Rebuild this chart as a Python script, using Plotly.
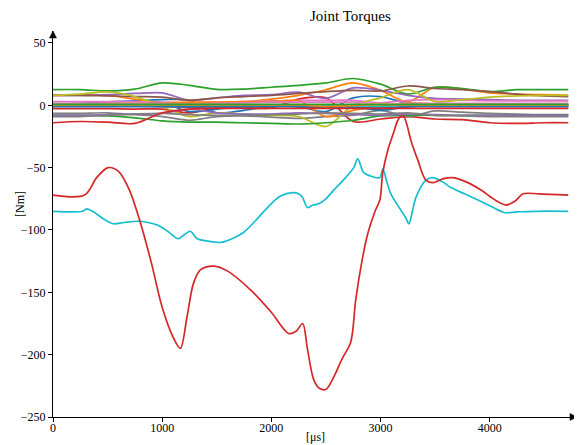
import plotly.graph_objects as go

# ---- data ----
grid_x = [0, 250, 500, 750, 1000, 1250, 1500, 1750, 2000, 2250, 2500, 2750, 3000, 3250, 3500, 3750, 4000, 4250, 4500, 4720]

blue_1   = [0.5, 1.5, 2.7, 3.5, 4.5, 4, -6, -4, -1, -1, -5, 6, 7, 1.5, 0.5, 0, 0, 0, 0, 0]
orange_1 = [8, 8.5, 8, 5, 2, 1, 2, 2.7, 5, 8, 12.5, 18, 12, 3, 14.5, 13, 10, 9, 8.5, 8]
green_1  = [12.6, 12.6, 11.5, 13, 18, 16, 12.8, 13, 14.5, 16, 18, 21.5, 17, 9, 14.5, 13.5, 11, 12.5, 12.5, 12.5]
red_3    = [-2.7, -2.7, -2.7, -3, -3, -6, -2, -2, -2, 5, 6, -13, -11, -9, -11, -11.5, -14, -14.5, -14, -14]
purple_1 = [8, 8, 8.5, 9.5, 10, 4, 6, 8, 8.5, 10.5, 5.5, 14, 12, 8, 5.5, 5, 4.5, 4, 4, 4]
brown_1  = [8, 8, 7.5, 7, 6.5, 4, 6, 7, 8, 9.5, 11, 12, 11.5, 15.5, 13.5, 12.5, 11, 9, 7.5, 7]
pink_1   = [3, 3, 3, 3, 2.5, 2, 2.5, 3, 3.5, 4, 4, 4, 2, 4, 4.5, 4, 3.5, 3.5, 3.5, 3.5]
gray_1   = [-6.4, -6.4, -6, -7.5, -9, -12, -9, -8.5, -9.5, -10.5, -9, -8, -4, -9, -4.5, -5.5, -6.5, -7, -7.5, -7.5]
olive_1  = [8, 9, 10.7, 7, -1, -9, -6, -7, -8, -9, -17, 0, 6, 12.5, 3, 4.5, 6.5, 7.5, 8, 8]
blue_2   = [-0.5, -0.5, -0.5, 0, 2, -5, -3, -1, -0.5, -1, -2, -1, -4, -1, -0.5, -0.5, -0.5, -0.5, -0.5, -0.5]
orange_2 = [1, 1, 1.5, 1.5, 2, 2.5, 2.5, 3, 3, 3.5, -9, -4, -1, 2, 1, 1, 1, 1, 1, 1]
green_2  = [-8, -8, -8.5, -10, -12.5, -13.5, -13.5, -14, -14.5, -15, -14, -12, -8.5, -8, -8, -8, -8, -8, -8, -8]
purple_2 = [-8, -8, -7.5, -7, -6.5, -3, -6, -7, -7, -6, -6.5, -7.5, -8, -7, -7.5, -8, -8, -8, -8, -8]
brown_2  = [-0.5, -0.5, -0.5, -0.5, -1, -1.5, -1, -0.5, -0.5, -0.5, -1, -1.5, -2, -1, -0.5, -0.5, -0.5, -0.5, -0.5, -0.5]
pink_2   = [1.5, 1.5, 1.5, 1.5, 1.5, 1, 1.5, 2, 2.5, 2.5, 2.5, 2.5, 1, 1.5, 1.5, 1.5, 1.5, 1.5, 1.5, 1.5]
gray_2   = [-9, -9, -8, -7, -6.5, -7.5, -8, -8, -7.5, -7, -6, -6.5, -7, -6, -8, -8.5, -9, -9, -9, -9]
olive_2  = [0.5, 0.5, 0.5, 0.5, 0.5, 0.5, 0.5, 0.5, 0.5, 0.5, 0, 0.5, 1, 0.5, 0.5, 0.5, 0.5, 0.5, 0.5, 0.5]
cyan_1   = [0, 0, 0, 0, 0, 0.3, 0, 0, 0, 0, 0, -0.5, -1, 0, 0, 0, 0, 0, 0, 0]
blue_3   = [-1, -1, -1, -1, -1, -1, -1, -1, -1, -1, -1.5, -2, -3, -1, -1, -1, -1, -1, -1, -1]
orange_3 = [0.3, 0.3, 0.3, 0.3, 0.3, 0.3, 0.3, 0.3, 0.3, 0.3, -1, 0, 0.5, 0.3, 0.3, 0.3, 0.3, 0.3, 0.3, 0.3]
green_3  = [0.8, 0.8, 0.8, 0.8, 0.8, 0.8, 0.8, 0.8, 0.8, 0.8, 0.8, 0.8, 0.5, 0.8, 0.8, 0.8, 0.8, 0.8, 0.8, 0.8]
red_2    = [-14, -13, -13.5, -14.5, -6, -3, -2.5, -2.5, -2.5, -2.5, -2.5, -2.5, -2.5, -2.5, -2.5, -2.5, -2.5, -2.5, -2.5, -2.5]

red_big_x = [0, 290, 400, 505, 600, 700, 800, 900, 1000, 1100, 1166, 1227, 1286, 1350, 1470, 1600,
             1809, 2000, 2158, 2230, 2287, 2330, 2388, 2440, 2498, 2560, 2650, 2727, 2773, 2830, 2883,
             2950, 2994, 3021, 3067, 3120, 3159, 3205, 3240, 3278, 3342, 3416, 3480, 3570, 3664, 3800,
             3921, 4050, 4151, 4230, 4307, 4450, 4720]
red_big_y = [-72, -72, -58, -50, -53, -68, -94, -126, -162, -186, -195, -170, -143, -132, -129, -133,
             -148, -166, -183, -181, -175, -195, -220, -227, -228, -220, -203, -190, -156, -125, -103,
             -85, -76, -54, -36, -22, -12, -8, -15, -28, -44, -60, -62, -59, -58, -62,
             -68, -76, -80, -77, -71, -71, -72]

cyan_big_x = [0, 270, 312, 380, 460, 551, 650, 781, 870, 955, 1050, 1148, 1200, 1258, 1290, 1322, 1420,
              1533, 1640, 1745, 1850, 1965, 2080, 2195, 2250, 2286, 2332, 2380, 2433, 2500, 2571, 2660,
              2755, 2791, 2847, 2920, 2994, 3021, 3060, 3095, 3186, 3230, 3260, 3290, 3324, 3416, 3480,
              3560, 3646, 3770, 3893, 4010, 4132, 4250, 4408, 4720]
cyan_big_y = [-85, -85, -83, -86, -91, -95, -94, -93, -94, -96, -101, -107, -104, -101, -104, -107, -109,
              -110, -107, -102, -93, -82, -73, -70, -71, -74, -82, -80, -79, -75, -68, -60,
              -50, -43, -54, -57, -58, -51, -62, -71, -84, -90, -95, -86, -74, -60, -58,
              -61, -66, -71, -76, -81, -86, -85.5, -85, -85]

x_ticks = [0, 1000, 2000, 3000, 4000]
y_ticks = [-250, -200, -150, -100, -50, 0, 50]

tab10 = ["#1f77b4", "#ff7f0e", "#2ca02c", "#d62728", "#9467bd",
         "#8c564b", "#e377c2", "#7f7f7f", "#bcbd22", "#17becf"]

series = [
    (grid_x, blue_1), (grid_x, orange_1), (grid_x, green_1), (grid_x, red_3),
    (grid_x, purple_1), (grid_x, brown_1), (grid_x, pink_1), (grid_x, gray_1),
    (grid_x, olive_1), (cyan_big_x, cyan_big_y), (grid_x, blue_2), (grid_x, orange_2),
    (grid_x, green_2), (red_big_x, red_big_y), (grid_x, purple_2), (grid_x, brown_2),
    (grid_x, pink_2), (grid_x, gray_2), (grid_x, olive_2), (grid_x, cyan_1),
    (grid_x, blue_3), (grid_x, orange_3), (grid_x, green_3), (grid_x, red_2),
]

fig = go.Figure()
for i, (xs, ys) in enumerate(series):
    fig.add_trace(go.Scatter(
        x=xs, y=ys, mode="lines",
        line=dict(color=tab10[i % 10], width=1.7, shape="spline", smoothing=0.9),
        showlegend=False, hoverinfo="skip"))

serif = "Liberation Serif, DejaVu Serif, serif"

# the page body adds an 8px offset, so the figure is sized to fit inside the window
fig.update_layout(
    width=574, height=437,
    margin=dict(l=45, r=5, t=23, b=28, autoexpand=False),
    paper_bgcolor="white", plot_bgcolor="white",
    font=dict(family=serif, size=12, color="black"),
    showlegend=False,
    xaxis=dict(range=[0, 4800], tickvals=x_ticks, ticks="outside", ticklen=4,
               tickwidth=1, tickcolor="black", showline=True, linecolor="black",
               linewidth=1, showgrid=False, zeroline=False, automargin=False,
               ticklabelstandoff=-4,
               tickfont=dict(family=serif, size=12)),
    yaxis=dict(range=[-250, 59.6], tickvals=y_ticks, ticks="outside", ticklen=4,
               tickwidth=1, tickcolor="black", showline=True, linecolor="black",
               linewidth=1, showgrid=False, zeroline=False, automargin=False,
               tickfont=dict(family=serif, size=12)),
    shapes=[
        dict(type="path", xref="paper", yref="paper",
             path="M 1 0 L 0.9866 0.0091 L 0.9866 -0.0091 Z",
             fillcolor="black", line=dict(color="black", width=0.5)),
        dict(type="path", xref="paper", yref="paper",
             path="M 0 1 L 0.0067 0.9819 L -0.0067 0.9819 Z",
             fillcolor="black", line=dict(color="black", width=0.5)),
    ],
    annotations=[
        dict(text="Joint Torques", xref="paper", yref="paper", x=0.567, y=1.039,
             xanchor="center", yanchor="middle", showarrow=False,
             font=dict(family=serif, size=15)),
        dict(text="[Nm]", xref="paper", yref="paper", x=-0.063, y=0.552,
             xanchor="center", yanchor="middle", showarrow=False, textangle=-90,
             font=dict(family=serif, size=12)),
        dict(text="[μs]", xref="paper", yref="paper", x=0.5, y=-0.052,
             xanchor="center", yanchor="middle", showarrow=False,
             font=dict(family=serif, size=12)),
    ],
)

fig.write_html("out.html")
